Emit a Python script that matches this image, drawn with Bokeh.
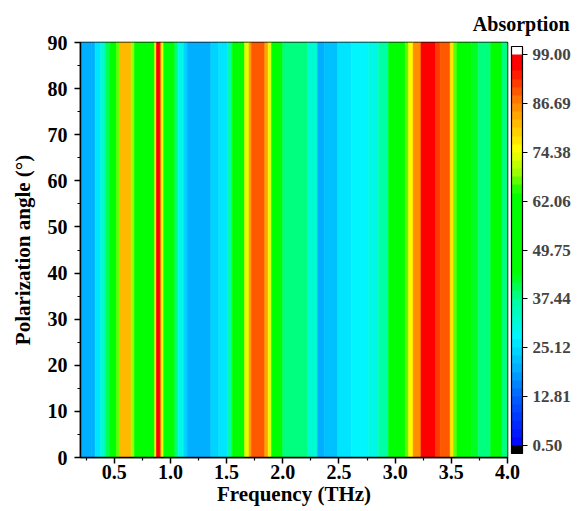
from bokeh.plotting import figure
from bokeh.models import (LinearColorMapper, ColorBar, FixedTicker, PrintfTickFormatter,
                          ColumnDataSource, Range1d)
from bokeh.embed import file_html
from bokeh.resources import INLINE

# ---- data ----
# frequency segment edges (THz) and absorption (%) in each segment
freq_edges = [0.20, 0.30, 0.33, 0.38, 0.42, 0.46, 0.52, 0.55, 0.65, 0.68, 0.86, 0.875,
              0.91, 0.92, 0.94, 1.04, 1.07, 1.12, 1.15, 1.36, 1.43, 1.51, 1.55, 1.61,
              1.66, 1.70, 1.72, 1.84, 1.87, 1.90, 2.00, 2.22, 2.31, 2.37, 2.49, 2.61,
              2.76, 2.85, 2.94, 3.09, 3.12, 3.16, 3.23, 3.36, 3.40, 3.49, 3.52, 3.55,
              3.68, 3.74, 3.85, 3.95, 4.00]
absorption = [19, 21, 26, 33, 40, 50, 68, 81, 70, 54, 76,
              97, 88, 74, 50, 38, 30, 25, 19, 24, 27, 37, 44,
              52, 74, 84, 90, 84, 74, 52, 38, 33, 20, 22, 26,
              29, 30, 37, 50, 68, 75, 85, 98, 92, 89, 78, 68,
              48, 42, 38, 44, 39]
angle_min, angle_max = 0, 90
x_ticks = [0.5, 1.0, 1.5, 2.0, 2.5, 3.0, 3.5, 4.0]
x_minor = [0.25, 0.75, 1.25, 1.75, 2.25, 2.75, 3.25, 3.75]
y_ticks = [0, 10, 20, 30, 40, 50, 60, 70, 80, 90]
y_minor = [5, 15, 25, 35, 45, 55, 65, 75, 85]
cbar_ticks = [0.50, 12.81, 25.12, 37.44, 49.75, 62.06, 74.38, 86.69, 99.00]
cmin, cmax = 0.50, 99.00

# ---- colour palette (Origin-like rainbow, stepped) ----
anchors = [(0.5, (0, 0, 255)), (13, (0, 100, 255)), (20, (0, 175, 255)), (28, (0, 245, 255)),
           (37, (0, 255, 160)), (44, (0, 255, 0)), (64, (0, 255, 0)), (69, (150, 255, 0)),
           (75, (255, 255, 0)), (87, (255, 128, 0)), (96, (255, 0, 0)), (99, (255, 0, 0))]

def col_at(v):
    for (v0, c0), (v1, c1) in zip(anchors[:-1], anchors[1:]):
        if v0 <= v <= v1:
            t = (v - v0) / (v1 - v0)
            return "#%02x%02x%02x" % tuple(int(round(a + (b - a) * t)) for a, b in zip(c0, c1))
    return "#ff0000"

N = 48
step = (cmax - cmin) / N
palette = ["#000000"] + [col_at(cmin + (i + 0.5) * step) for i in range(N)] + ["#ffffff"]
mapper = LinearColorMapper(palette=palette, low=cmin - step, high=cmax + step)

src = ColumnDataSource(dict(left=freq_edges[:-1], right=freq_edges[1:],
                            bottom=[angle_min] * len(absorption), top=[angle_max] * len(absorption),
                            absorption=absorption))

FONT = "Liberation Serif"

p = figure(width=577, height=511, output_backend="svg", toolbar_location=None,
           x_range=Range1d(0.2, 4.0), y_range=Range1d(0, 90),
           min_border_left=80, min_border_right=67, min_border_top=42, min_border_bottom=54)
p.quad(left="left", right="right", bottom="bottom", top="top", source=src,
       fill_color={"field": "absorption", "transform": mapper},
       line_color={"field": "absorption", "transform": mapper}, line_width=0.6)

p.title.text = "Absorption"
p.title.align = "right"
p.title.offset = -62
p.title.standoff = 16
p.title.text_font = FONT
p.title.text_font_style = "bold"
p.title.text_font_size = "20px"
p.title.text_color = "black"

p.grid.visible = False
p.outline_line_color = "black"
p.outline_line_width = 1.5
p.background_fill_color = "white"

for ax in (p.xaxis[0], p.yaxis[0]):
    ax.axis_line_width = 1.5
    ax.major_tick_line_width = 1.5
    ax.minor_tick_line_width = 1.2
    ax.major_tick_in = 0
    ax.major_tick_out = 6
    ax.minor_tick_in = 0
    ax.minor_tick_out = 3
    ax.major_label_text_font = FONT
    ax.major_label_text_font_style = "bold"
    ax.major_label_text_font_size = "20px"
    ax.major_label_text_color = "black"
    ax.axis_label_text_font = FONT
    ax.axis_label_text_font_style = "bold"
    ax.axis_label_text_font_size = "21px"
    ax.axis_label_text_color = "black"

p.xaxis.ticker = FixedTicker(ticks=x_ticks, minor_ticks=x_minor)
p.yaxis.ticker = FixedTicker(ticks=y_ticks, minor_ticks=y_minor)
p.xaxis.formatter = PrintfTickFormatter(format="%.1f")
p.yaxis.formatter = PrintfTickFormatter(format="%d")
p.xaxis.axis_label = "Frequency (THz)"
p.yaxis.axis_label = "Polarization angle (°)"
p.xaxis.major_label_standoff = 1
p.xaxis.axis_label_standoff = 0
p.yaxis.major_label_standoff = 7
p.yaxis.axis_label_standoff = 10

cb = ColorBar(color_mapper=mapper, ticker=FixedTicker(ticks=cbar_ticks),
              formatter=PrintfTickFormatter(format="%.2f"), width=11,
              padding=4, margin=0, bar_line_color="black", bar_line_width=1.2,
              major_tick_line_color="black", major_tick_in=0, major_tick_out=5,
              major_label_text_font=FONT, major_label_text_font_style="bold",
              major_label_text_font_size="17px", label_standoff=5,
              background_fill_alpha=0)
p.add_layout(cb, "right")

open("out.html", "w").write(file_html(p, INLINE))
